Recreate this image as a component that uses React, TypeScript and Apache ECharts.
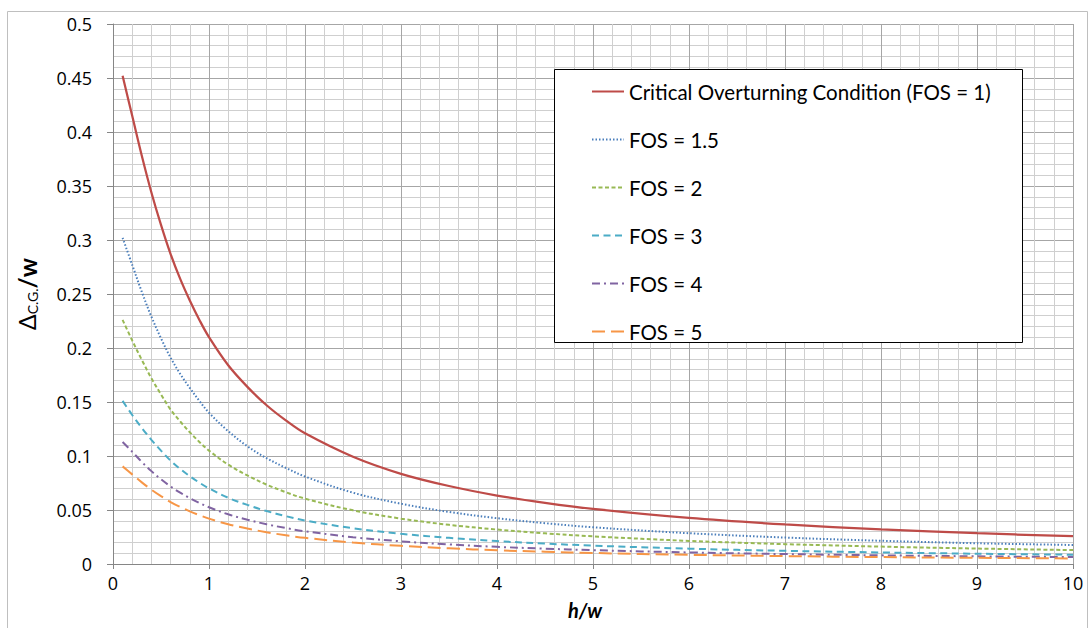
import React, { useEffect, useRef } from "react";
import * as echarts from "echarts";

const xValues = [0.1, 0.2, 0.3, 0.4, 0.5, 0.6, 0.7, 0.8, 0.9, 1.0, 1.2, 1.4, 1.6, 1.8, 2.0, 2.5, 3, 3.5, 4, 4.5, 5, 6, 7, 8, 9, 10];

const fos1 = [0.452, 0.415, 0.378, 0.344, 0.314, 0.287, 0.264, 0.244, 0.226, 0.21, 0.184, 0.164, 0.147, 0.133, 0.121, 0.0993, 0.0835, 0.0722, 0.0634, 0.0566, 0.051, 0.0426, 0.0366, 0.032, 0.0285, 0.0257];
const fos15 = [0.302, 0.277, 0.252, 0.229, 0.209, 0.191, 0.176, 0.163, 0.151, 0.14, 0.123, 0.109, 0.098, 0.089, 0.081, 0.066, 0.0558, 0.0482, 0.0424, 0.0378, 0.034, 0.0285, 0.0245, 0.0215, 0.0192, 0.0176];
const fos2 = [0.226, 0.207, 0.189, 0.172, 0.157, 0.143, 0.132, 0.122, 0.113, 0.105, 0.092, 0.082, 0.0735, 0.0665, 0.0605, 0.0497, 0.042, 0.0363, 0.0319, 0.0284, 0.0256, 0.0214, 0.0184, 0.0161, 0.0143, 0.0129];
const fos3 = [0.151, 0.138, 0.126, 0.115, 0.105, 0.0957, 0.088, 0.0813, 0.0753, 0.07, 0.0613, 0.0547, 0.049, 0.0443, 0.0403, 0.0331, 0.028, 0.0242, 0.0212, 0.0189, 0.017, 0.0142, 0.0122, 0.0107, 0.0095, 0.0086];
const fos4 = [0.113, 0.104, 0.0945, 0.086, 0.0785, 0.0718, 0.066, 0.061, 0.0565, 0.0525, 0.046, 0.041, 0.0368, 0.0333, 0.0303, 0.0248, 0.021, 0.0181, 0.0159, 0.0142, 0.0128, 0.0107, 0.0092, 0.008, 0.0071, 0.0064];
const fos5 = [0.0904, 0.083, 0.0756, 0.0688, 0.0628, 0.0574, 0.0528, 0.0488, 0.0452, 0.042, 0.0368, 0.0328, 0.0294, 0.0266, 0.0242, 0.0199, 0.0168, 0.0145, 0.0127, 0.0114, 0.0102, 0.0085, 0.0073, 0.0064, 0.0057, 0.0051];

const seriesNames = [
  "Critical Overturning Condition (FOS = 1)",
  "FOS = 1.5",
  "FOS = 2",
  "FOS = 3",
  "FOS = 4",
  "FOS = 5",
];
const seriesValues = [fos1, fos15, fos2, fos3, fos4, fos5];
const seriesColors = ["#BE4B48", "#4A7EBB", "#98B954", "#4BACC6", "#8064A2", "#F79646"];
const seriesDash: any[] = ["solid", [1.5, 2], [4, 2.5], [7, 4.5], [8, 4, 2, 4], [13, 6]];
const seriesWidth = [2.25, 2, 2, 2, 2, 2];

const FONT = "Lato";
const TICK_FONT = "Open Sans";

export default function App() {
  const ref = useRef<HTMLDivElement>(null);
  useEffect(() => {
    if (!ref.current) return;
    const chart = echarts.init(ref.current, undefined, { renderer: "svg" });
    const series = seriesNames.map((name, i) => ({
      name,
      type: "line",
      smooth: 0.35,
      symbol: "none",
      data: xValues.map((x, j) => [x, seriesValues[i][j]]),
      lineStyle: { color: seriesColors[i], width: seriesWidth[i], type: seriesDash[i] },
      itemStyle: { color: seriesColors[i] },
    }));
    chart.setOption({
      animation: false,
      backgroundColor: "#ffffff",
      textStyle: { fontFamily: FONT },
      grid: { left: 113, right: 17, top: 24, bottom: 64, containLabel: false },
      xAxis: {
        type: "value",
        min: 0,
        max: 10,
        interval: 1,
        name: "h/w",
        nameLocation: "middle",
        nameGap: 36,
        nameTextStyle: { fontFamily: FONT, fontSize: 20, fontWeight: "bold", fontStyle: "italic", color: "#000", padding: [0, 16, 0, 0] },
        axisLine: { show: true, lineStyle: { color: "#868686", width: 1 } },
        axisTick: { show: true, length: 5, lineStyle: { color: "#868686" } },
        axisLabel: { fontFamily: TICK_FONT, fontSize: 18, color: "#000", margin: 10 },
        splitLine: { show: true, lineStyle: { color: "#a6a6a6", width: 1 } },
        minorTick: { show: false, splitNumber: 5 },
        minorSplitLine: { show: true, lineStyle: { color: "#cfcfcf", width: 1 } },
      },
      yAxis: {
        type: "value",
        min: 0,
        max: 0.5,
        interval: 0.05,
        name: "{a|Δ}{b|C.G.}{c|/w}",
        nameLocation: "middle",
        nameGap: 74,
        nameRotate: 90,
        nameTextStyle: {
          rich: {
            a: { fontFamily: FONT, fontSize: 23, color: "#000" },
            b: { fontFamily: FONT, fontSize: 14, color: "#000", padding: [10, 0, 0, 0] },
            c: { fontFamily: FONT, fontSize: 24, color: "#000", fontWeight: "bold" },
          },
        },
        axisLine: { show: true, lineStyle: { color: "#868686", width: 1 } },
        axisTick: { show: true, length: 6, lineStyle: { color: "#868686" } },
        axisLabel: { fontFamily: TICK_FONT, fontSize: 18, color: "#000", margin: 21 },
        splitLine: { show: true, lineStyle: { color: "#a6a6a6", width: 1 } },
        minorTick: { show: false, splitNumber: 5 },
        minorSplitLine: { show: true, lineStyle: { color: "#cfcfcf", width: 1 } },
      },
      legend: {
        data: seriesNames,
        orient: "vertical",
        left: 591,
        top: 81,
        padding: 0,
        itemWidth: 32,
        itemHeight: 14,
        itemGap: 27,
        itemStyle: { color: "rgba(0,0,0,0)", borderWidth: 0, opacity: 0 },
        textStyle: { fontFamily: FONT, fontSize: 20.5, color: "#000" },
        z: 10,
      },
      graphic: [
        {
          type: "rect",
          z: 5,
          shape: { x: 554.5, y: 69.5, width: 468, height: 273 },
          style: { fill: "#ffffff", stroke: "#000000", lineWidth: 1 },
        },
        {
          type: "rect",
          z: 100,
          shape: { x: 7.5, y: 11.5, width: 1080, height: 640 },
          style: { fill: "none", stroke: "#bfbfbf", lineWidth: 1 },
        },
      ],
      series,
    });
    return () => chart.dispose();
  }, []);
  return (
    <div
      ref={ref}
      style={{ position: "absolute", left: 0, top: 0, width: 1090, height: 628, background: "#fff" }}
    />
  );
}
